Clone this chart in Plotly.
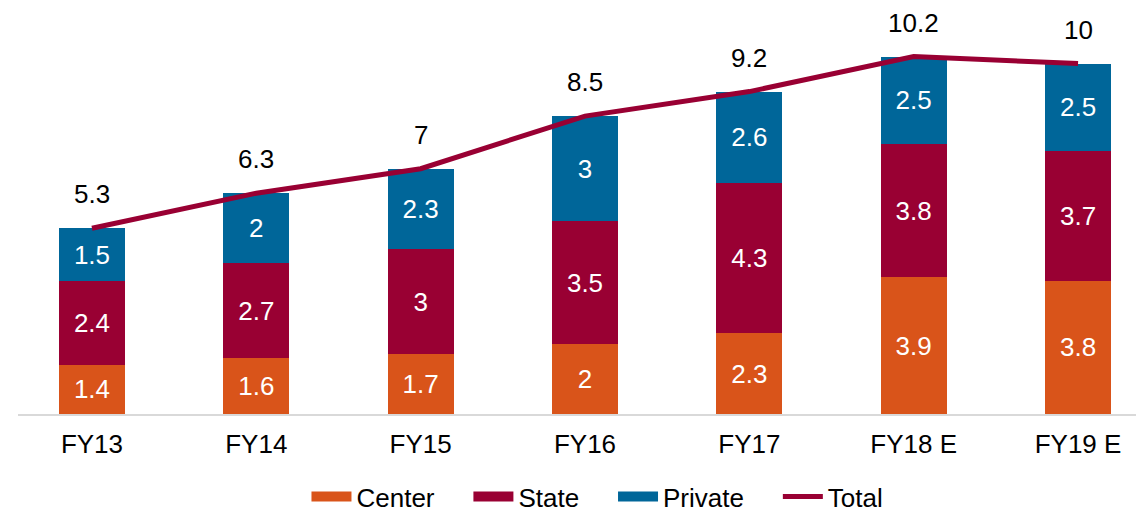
import plotly.graph_objects as go

categories = ["FY13", "FY14", "FY15", "FY16", "FY17", "FY18 E", "FY19 E"]
center = [1.4, 1.6, 1.7, 2, 2.3, 3.9, 3.8]
state = [2.4, 2.7, 3, 3.5, 4.3, 3.8, 3.7]
private = [1.5, 2, 2.3, 3, 2.6, 2.5, 2.5]
total = [5.3, 6.3, 7, 8.5, 9.2, 10.2, 10]

font = "Liberation Sans, Arial, sans-serif"
pad = "\u00a0" * 4
fig = go.Figure()
series = [("Center", center, "#D9541A"), ("State", state, "#990033"), ("Private", private, "#006699")]
for name, vals, col in series:
    fig.add_trace(go.Bar(
        x=categories, y=vals, name=name, marker=dict(color=col, line=dict(width=0)),
        text=[str(v) for v in vals], textposition="inside", insidetextanchor="middle",
        textfont=dict(color="white", size=26, family=font), constraintext="none",
        width=0.4, showlegend=False,
    ))
# legend entries with wide rectangular swatches
for name, vals, col in series:
    fig.add_trace(go.Scatter(x=[None], y=[None], name=name + pad, mode="lines",
                             line=dict(color=col, width=13)))
fig.add_trace(go.Scatter(
    x=categories, y=total, name="Total", mode="lines",
    line=dict(color="#990033", width=5),
))
for c, t in zip(categories, total):
    fig.add_annotation(x=c, y=t, text=str(t), showarrow=False, yshift=34,
                       font=dict(size=26, color="black", family=font))

fig.update_layout(
    barmode="stack",
    width=1144, height=512,
    margin=dict(l=10, r=0, t=10, b=100),
    plot_bgcolor="white", paper_bgcolor="white",
    font=dict(family=font, size=26, color="black"),
    legend=dict(orientation="h", x=0.511, xanchor="center", y=-0.15, yanchor="top",
                font=dict(size=26), traceorder="normal", itemwidth=40,
                tracegroupgap=0),
    showlegend=True,
)
fig.update_xaxes(range=[-0.45, 6.45], showline=True, linecolor="#D9D9D9", linewidth=2,
                 ticks="", tickfont=dict(size=26), showgrid=False, ticklabelstandoff=6)
fig.update_yaxes(range=[0, 11.3], visible=False, showgrid=False)
fig.write_html("out.html")
